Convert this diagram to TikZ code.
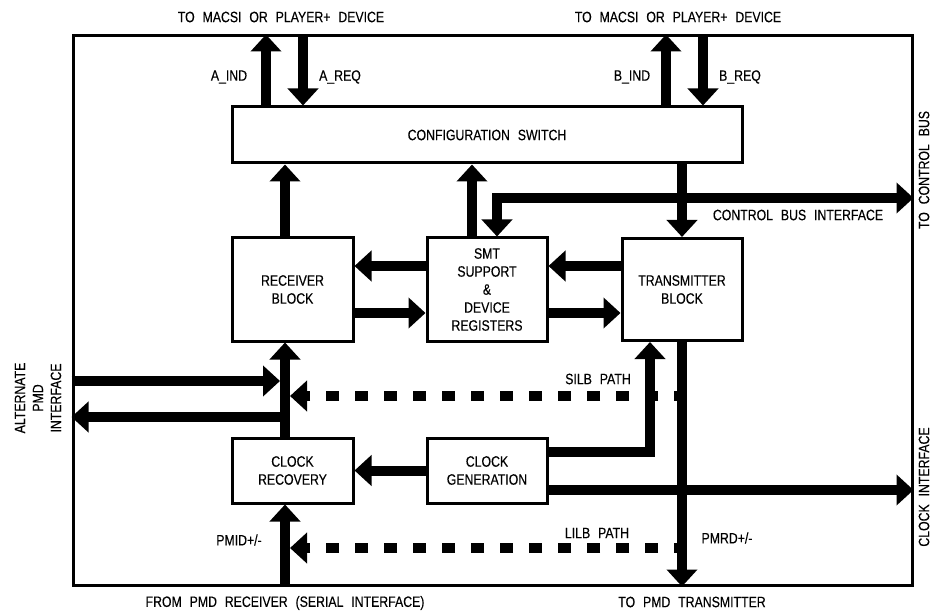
\documentclass[tikz,border=0pt]{standalone}
\usepackage{fontspec}
\setmainfont{Liberation Sans}[FakeStretch=0.82, WordSpace=2.3, FakeBold=0.3]
\usetikzlibrary{arrows.meta}
\begin{document}
\begin{tikzpicture}[x=1pt,y=-1pt,
  every node/.style={font=\fontsize{15}{18}\selectfont},
  box/.style={draw, line width=3pt, inner sep=0pt, align=center},
  lbl/.style={inner sep=0pt, align=center},
  arr/.style={line width=10pt, line join=miter, -{Triangle[length=17pt,width=30pt]}},
  darr/.style={arr, dash pattern=on 13pt off 16pt, dash phase=5pt},
  dbl/.style={line width=10pt, line join=miter, {Triangle[length=17pt,width=30pt]}-{Triangle[length=17pt,width=30pt]}}]
\useasboundingbox (0,0) rectangle (931,612);
% frame and blocks
\node[box, minimum width=839pt, minimum height=549pt] (frame) at (492.5,310.5) {};
\node[box, minimum width=510pt, minimum height=56pt] (cfg) at (487,135) {CONFIGURATION SWITCH};
\node[box, minimum width=121pt, minimum height=103pt] (rcv) at (292.5,289.5) {RECEIVER\\BLOCK};
\node[box, minimum width=120pt, minimum height=103pt] (smt) at (487,289.5) {SMT\\SUPPORT\\\&\\DEVICE\\REGISTERS};
\node[box, minimum width=120pt, minimum height=102pt] (tx) at (682,289.5) {TRANSMITTER\\BLOCK};
\node[box, minimum width=121pt, minimum height=65pt] (crec) at (292.5,470.5) {CLOCK\\RECOVERY};
\node[box, minimum width=120pt, minimum height=65pt] (cgen) at (487,470.5) {CLOCK\\GENERATION};
% junction coordinates
\coordinate (altin) at (280,381);
\coordinate (altout) at (285,417);
\coordinate (silbend) at (290,396);
\coordinate (lilbend) at (290,548);
\coordinate (silbstart) at (682,396);
\coordinate (lilbstart) at (682,548);
% top bus arrows
\draw[arr] (266,0 |- cfg.north) -- (266,0 |- frame.north);
\draw[arr] (303,0 |- frame.north) -- (303,0 |- cfg.north);
\draw[arr] (666,0 |- cfg.north) -- (666,0 |- frame.north);
\draw[arr] (703,0 |- frame.north) -- (703,0 |- cfg.north);
% blocks to config switch
\draw[arr] (285,0 |- rcv.north) -- (285,0 |- cfg.south);
\draw[arr] (472,0 |- smt.north) -- (472,0 |- cfg.south);
\draw[arr] (cfg.south -| tx.north) -- (tx.north);
% control bus
\draw[dbl] (smt.north -| 497,0) |- (frame.east |- 0,198);
% horizontal links
\draw[arr] (smt.west |- 0,266) -- (rcv.east |- 0,266);
\draw[arr] (rcv.east |- 0,313) -- (smt.west |- 0,313);
\draw[arr] (tx.west |- 0,266) -- (smt.east |- 0,266);
\draw[arr] (smt.east |- 0,313) -- (tx.west |- 0,313);
\draw[arr] (cgen.west) -- (crec.east);
% receive path
\draw[arr] (285,0 |- crec.north) -- (285,0 |- rcv.south);
\draw[arr] (285,0 |- frame.south) -- (285,0 |- crec.south);
\draw[arr] (frame.west |- altin) -- (altin);
\draw[arr] (altout) -- (frame.west |- altout);
% loopbacks
\draw[darr] (silbstart) -- (silbend);
\draw[darr] (lilbstart) -- (lilbend);
% transmit path
\draw[arr] (tx.south) -- (tx.south |- frame.south);
\draw[arr] (cgen.east |- 0,452) -| (650,0 |- tx.south);
\draw[arr] (cgen.east |- 0,490) -- (frame.east |- 0,490);
% labels
\node[lbl] (tl1) at (281,17) {TO MACSI OR PLAYER+ DEVICE};
\node[lbl] (tl2) at (678,17) {TO MACSI OR PLAYER+ DEVICE};
\node[lbl] (aind) at (229,77) {A\_IND};
\node[lbl] (areq) at (340,77) {A\_REQ};
\node[lbl] (bind) at (632,77) {B\_IND};
\node[lbl] (breq) at (740,77) {B\_REQ};
\node[lbl] (cbi) at (798,215) {CONTROL BUS INTERFACE};
\node[lbl, rotate=90] (tcb) at (924,170) {TO CONTROL BUS};
\node[lbl, rotate=90] (cki) at (924,487) {CLOCK INTERFACE};
\node[lbl] (silb) at (598,379) {SILB PATH};
\node[lbl] (lilb) at (597,533) {LILB PATH};
\node[lbl] (pmid) at (239,540) {PMID+/-};
\node[lbl] (pmrd) at (727,538) {PMRD+/-};
\node[lbl] (fpr) at (285,603) {FROM PMD RECEIVER (SERIAL INTERFACE)};
\node[lbl] (tpt) at (692,602) {TO PMD TRANSMITTER};
\node[lbl, rotate=90] (alt) at (38,398) {ALTERNATE\\PMD\\INTERFACE};
\end{tikzpicture}
\end{document}
